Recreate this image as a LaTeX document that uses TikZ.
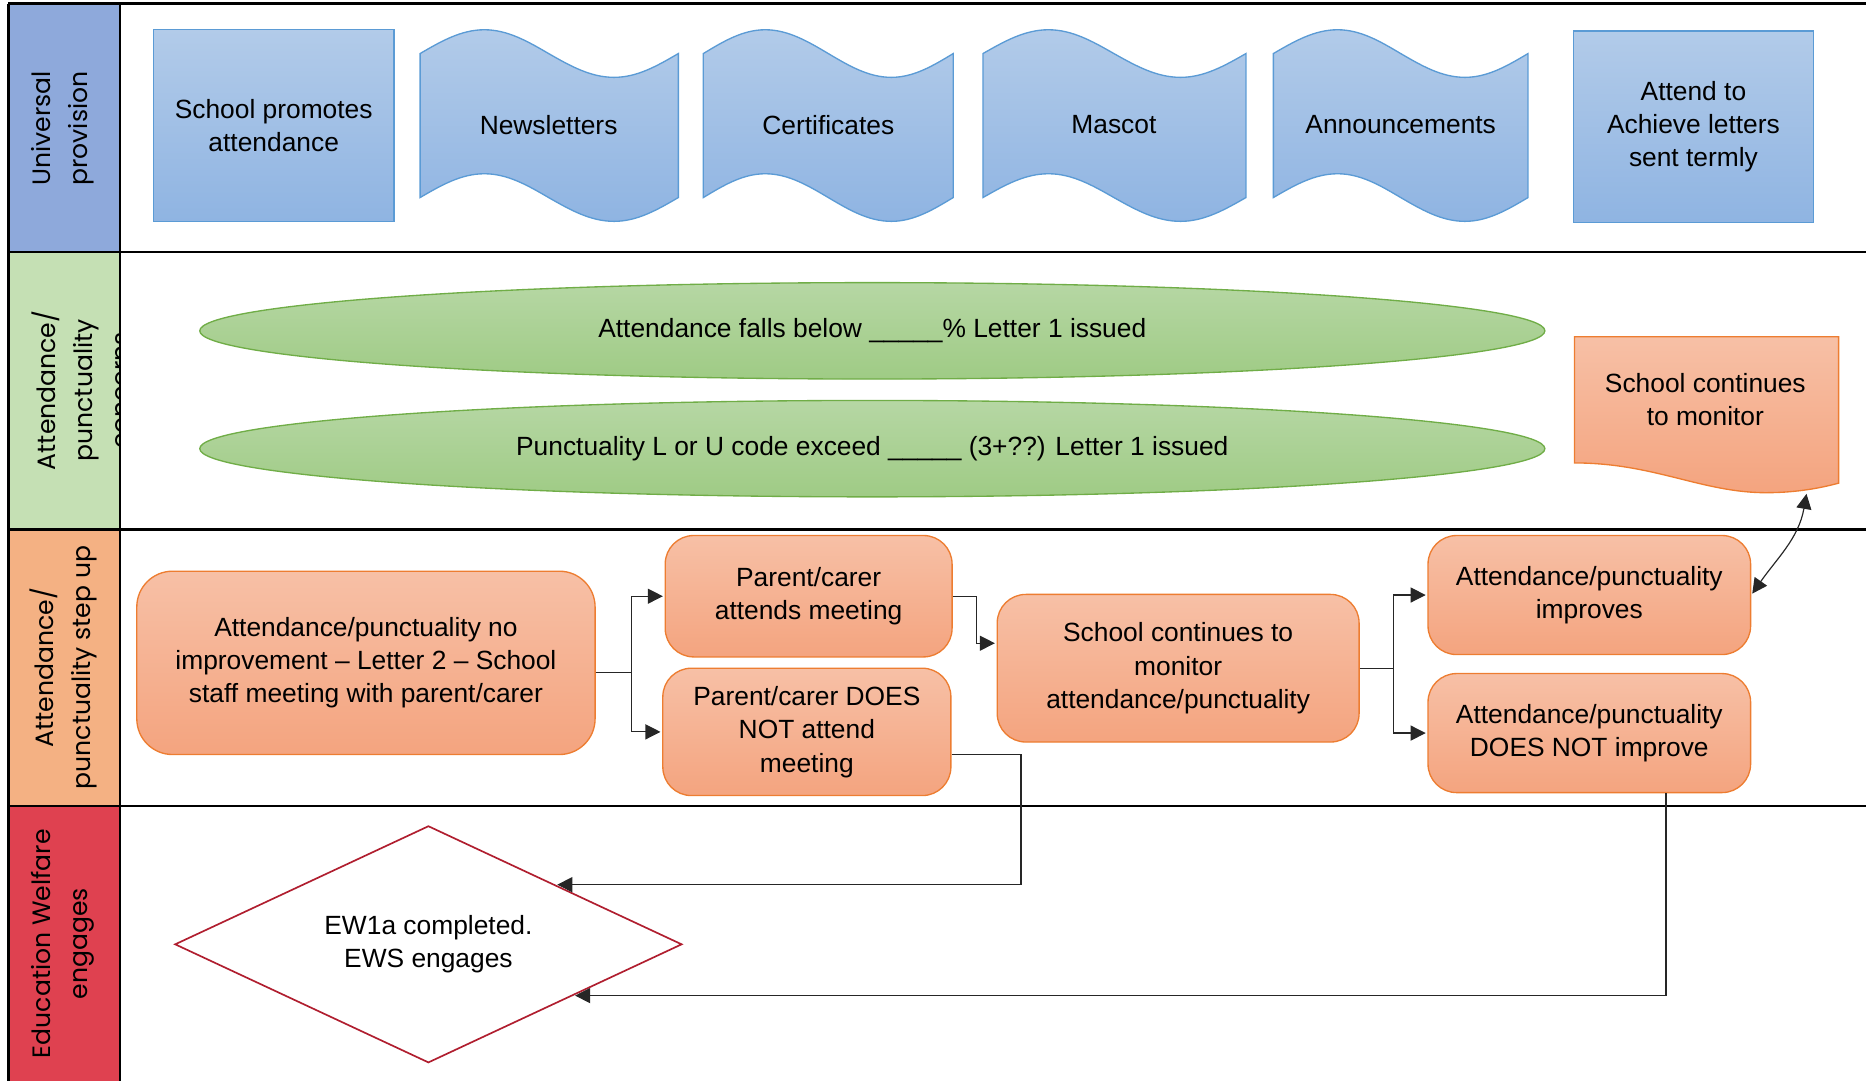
\documentclass[tikz,border=0pt]{standalone}
\usepackage{fontspec}
\setmainfont{Liberation Sans}
\newfontfamily\lanefont{Poppins}
\usetikzlibrary{shapes.geometric,arrows.meta,calc,positioning}

\definecolor{laneblue}{HTML}{8EA9DB}
\definecolor{lanegreen}{HTML}{C5E0B4}
\definecolor{laneorange}{HTML}{F4B183}
\definecolor{lanered}{HTML}{DF4150}
\definecolor{blueedge}{HTML}{5B9BD5}
\definecolor{bluetop}{HTML}{B2CBE9}
\definecolor{bluebot}{HTML}{8FB4E2}
\definecolor{greenedge}{HTML}{70AD47}
\definecolor{greentop}{HTML}{B6D7A4}
\definecolor{greenbot}{HTML}{9FCB85}
\definecolor{orangeedge}{HTML}{ED7D31}
\definecolor{orangetop}{HTML}{F7C0A6}
\definecolor{orangebot}{HTML}{F4A47F}
\definecolor{diaedge}{HTML}{B01E2F}

\begin{document}
\begin{tikzpicture}[x=0.025cm,y=-0.025cm,auto,thin,
>={Triangle[length=9pt,width=9pt]},
lane line/.style = {line width=1.4pt},
lane node/.style = {rotate=90, align=center, inner sep=0pt, font=\lanefont\fontsize{15}{22}\selectfont},
main node/.style = {align=center, inner sep=0pt, font=\fontsize{15.75}{19.9}\selectfont},
blue node/.style = {main node, line width=0.8pt, draw=blueedge, top color=bluetop, bottom color=bluebot, minimum width=5.05cm, minimum height=4.025cm},
blue tape/.style = {line width=0.8pt, draw=blueedge, top color=bluetop, bottom color=bluebot},
green node/.style = {main node, ellipse, line width=0.8pt, draw=greenedge, top color=greentop, bottom color=greenbot, minimum width=28.25cm, minimum height=2.025cm},
orange node/.style = {main node, rounded corners=0.6cm, line width=0.8pt, draw=orangeedge, top color=orangetop, bottom color=orangebot},
arr/.style = {->, shorten >=1pt, line width=0.7pt, draw=black!85}]

\useasboundingbox (0,0) rectangle (1568,908);

% lane headers
\fill[laneblue] (7,3) rectangle (101,212);
\fill[lanegreen] (7,212) rectangle (101,445);
\fill[laneorange] (7,445) rectangle (101,677);
\fill[lanered] (7,677) rectangle (101,908);

\node[lane node] (l1) at (53,108) {Universal\\provision};
\begin{scope}
\clip (7,212) rectangle (101,445);
\node[lane node] (l2) at (68,328) {Attendance/\\punctuality\\concerns};
\end{scope}
\node[lane node] (l3) at (53,561) {Attendance/\\punctuality step up};
\node[lane node] (l4) at (53,793) {Education Welfare\\engages};

\draw[lane line] (7,3) -- (1568,3);
\draw[lane line] (7,212) -- (1568,212);
\draw[lane line] (7,445) -- (1568,445);
\draw[lane line] (7,677) -- (1568,677);
\draw[lane line] (7,3) -- (7,908);
\draw[lane line] (101,3) -- (101,908);

% universal provision
\path[blue tape] (353,45) sin (407,25) cos (461,45) sin (516,65) cos (570,45) -- (570,166)
  sin (516,186) cos (461,166) sin (407,146) cos (353,166) -- cycle;
\path[blue tape] (591,45) sin (643,25) cos (696,45) sin (749,65) cos (801,45) -- (801,166)
  sin (749,186) cos (696,166) sin (643,146) cos (591,166) -- cycle;
\path[blue tape] (826,45) sin (881,25) cos (936,45) sin (992,65) cos (1047,45) -- (1047,166)
  sin (992,186) cos (936,166) sin (881,146) cos (826,166) -- cycle;
\path[blue tape] (1070,45) sin (1124,25) cos (1177,45) sin (1231,65) cos (1284,45) -- (1284,166)
  sin (1231,186) cos (1177,166) sin (1124,146) cos (1070,166) -- cycle;

\node[blue node] (1) at (230,105.5) {School promotes\\attendance};
\node[main node] (2) at (461,105) {Newsletters};
\node[main node] (3) at (696,105) {Certificates};
\node[main node] (4) at (936,105) {Mascot};
\node[main node] (5) at (1177,105) {Announcements};
\node[blue node] (6) at (1423,106.5) {Attend to\\Achieve letters\\sent termly};

% concerns
\node[green node] (7) at (733,278) {Attendance falls below \_\_\_\_\_\% Letter 1 issued};
\node[green node] (8) at (733,377) {Punctuality L or U code exceed \_\_\_\_\_ (3+??) Letter 1 issued};

\path[line width=0.8pt, draw=orangeedge, top color=orangetop, bottom color=orangebot]
  (1323,283) -- (1545,283) -- (1545,406) .. controls (1530,410) and (1510,414) .. (1484,414)
  .. controls (1430,414) and (1390,389) .. (1323,389) -- cycle;
\node[main node] (9) at (1433,336) {School continues\\to monitor};
\coordinate (17) at (1518,415);

% step up
\node[orange node, rounded corners=0.75cm, minimum width=9.625cm, minimum height=3.85cm] (10) at (307.5,557)
  {Attendance/punctuality no\\improvement -- Letter 2 -- School\\staff meeting with parent/carer};
\node[orange node, minimum width=6.025cm, minimum height=2.55cm] (11) at (679.5,501) {Parent/carer\\attends meeting};
\node[orange node, minimum width=6.05cm, minimum height=2.675cm] (12) at (678,615) {Parent/carer DOES\\NOT attend\\meeting};
\node[orange node, minimum width=7.6cm, minimum height=3.1cm] (13) at (990,561.5) {School continues to\\monitor\\attendance/punctuality};
\node[orange node, minimum width=6.775cm, minimum height=2.5cm] (14) at (1335.5,500) {Attendance/punctuality\\improves};
\node[orange node, minimum width=6.775cm, minimum height=2.5cm] (15) at (1335.5,616) {Attendance/punctuality\\DOES NOT improve};

% education welfare
\node[main node, diamond, aspect=2.14, line width=1pt, draw=diaedge, fill=white, minimum width=10.65cm, minimum height=4.975cm] (16) at (360,793.5)
  {EW1a completed.\\EWS engages};
\coordinate (18) at ($(16.north)!0.5!(16.east)$);
\coordinate (19) at ($(16.east)!0.43!(16.south)$);

\draw[arr] ($(10.east)+(0,8)$) -- ++(30,0) |- (11.west);
\draw[arr] ($(10.east)+(0,8)$) -- ++(30,0) |- (12.west);
\draw[arr] (11.east) -- ++(20,0) |- ($(13.west)+(0,-21)$);
\draw[arr] ($(12.east)+(0,19)$) -| (858,700) |- (18);
\draw[arr] (13.east) -- ++(28,0) |- (14.west);
\draw[arr] (13.east) -- ++(28,0) |- (15.west);
\draw[arr] ($(15.south)+(64.5,0)$) |- (19);
\draw[arr,<->] (17) to[out=-100,in=55] (14.east);
\end{tikzpicture}
\end{document}
